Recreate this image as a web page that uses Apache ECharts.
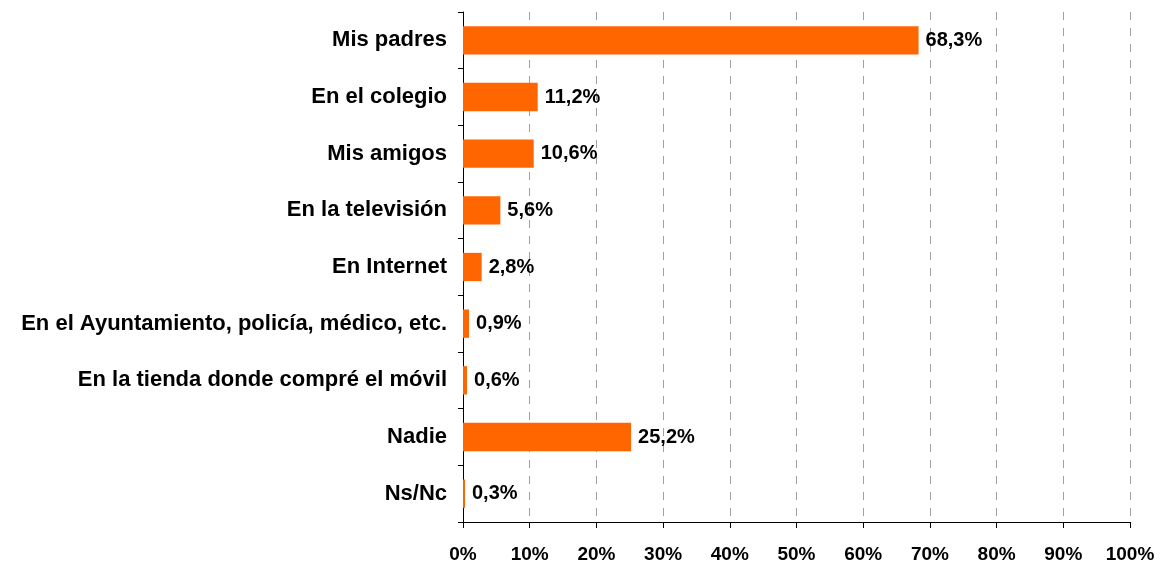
<!DOCTYPE html>
<html>
<head>
<meta charset="utf-8">
<script src="https://cdn.jsdelivr.net/npm/echarts@6/dist/echarts.min.js"></script>
<style>
html,body{margin:0;padding:0;background:#fff;}
#chart{width:1166px;height:565px;}
</style>
</head>
<body>
<div id="chart"></div>
<script>
// Categories from top to bottom
const categories = [
  'Mis padres',
  'En el colegio',
  'Mis amigos',
  'En la televisión',
  'En Internet',
  'En el Ayuntamiento, policía, médico, etc.',
  'En la tienda donde compré el móvil',
  'Nadie',
  'Ns/Nc'
];
// Percentage of respondents per category
const values = [68.3, 11.2, 10.6, 5.6, 2.8, 0.9, 0.6, 25.2, 0.3];
// X axis ticks (percent)
const xTicks = [0, 10, 20, 30, 40, 50, 60, 70, 80, 90, 100];

const font = '"Liberation Sans", Arial, sans-serif';
const fmt = v => String(v).replace('.', ',') + '%';

const chart = echarts.init(document.getElementById('chart'), null, {renderer: 'canvas'});
chart.setOption({
  animation: false,
  backgroundColor: '#ffffff',
  grid: {left: 463, right: 36, top: 12, bottom: 43, containLabel: false},
  xAxis: {
    type: 'value',
    min: xTicks[0],
    max: xTicks[xTicks.length - 1],
    interval: 10,
    axisLine: {show: true, lineStyle: {color: '#000', width: 1}},
    axisTick: {show: true, length: 6, lineStyle: {color: '#000'}},
    axisLabel: {
      margin: 23,
      color: '#000',
      fontFamily: font,
      fontWeight: 'bold',
      fontSize: 19,
      formatter: v => v + '%'
    },
    splitLine: {show: true, lineStyle: {color: '#a0a0a0', type: [8, 8], width: 1}}
  },
  yAxis: {
    type: 'category',
    inverse: true,
    data: categories,
    axisLine: {show: true, lineStyle: {color: '#000', width: 1}},
    axisTick: {show: true, length: 5, lineStyle: {color: '#000'}},
    axisLabel: {
      margin: 16,
      color: '#000',
      fontFamily: font,
      fontWeight: 'bold',
      fontSize: 22
    },
    splitLine: {show: false}
  },
  series: [{
    type: 'bar',
    data: values,
    barWidth: '50%',
    itemStyle: {color: '#ff6600'},
    label: {
      show: true,
      position: 'right',
      distance: 7,
      color: '#000',
      fontFamily: font,
      fontWeight: 'bold',
      fontSize: 20,
      formatter: p => fmt(p.value)
    }
  }]
});
</script>
</body>
</html>
